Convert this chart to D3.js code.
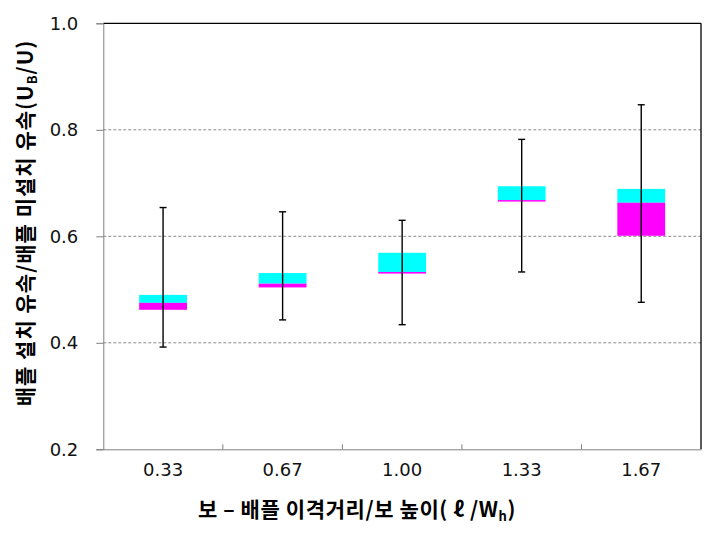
<!DOCTYPE html>
<html>
<head>
<meta charset="utf-8">
<script src="https://cdn.jsdelivr.net/npm/d3@7"></script>
<style>
  html, body { margin: 0; padding: 0; background: #fff; }
  svg { display: block; }
</style>
</head>
<body>
<div id="chart"></div>
<script>
// ---- data ----
const categories = ["0.33", "0.67", "1.00", "1.33", "1.67"];
const minVals    = [0.392, 0.443, 0.434, 0.533, 0.476];
const q1Vals     = [0.462, 0.504, 0.530, 0.666, 0.601];
const medianVals = [0.475, 0.511, 0.533, 0.668, 0.663];
const q3Vals     = [0.490, 0.531, 0.569, 0.694, 0.689];
const maxVals    = [0.654, 0.646, 0.630, 0.782, 0.847];
const yTicks     = [0.2, 0.4, 0.6, 0.8, 1.0];

const W = 715, H = 544;
const margin = { left: 103.3, right: 14, top: 23.3, bottom: 94.7 };
const x0 = margin.left, x1 = W - margin.right;
const y0 = margin.top, y1 = H - margin.bottom;

const svg = d3.select("#chart").append("svg")
  .attr("width", W).attr("height", H);

const x = d3.scaleBand().domain(categories).range([x0, x1]).padding(0);
const y = d3.scaleLinear().domain([0.2, 1.0]).range([y1, y0]);

const rows = categories.map((c, i) => ({
  c, min: minVals[i], q1: q1Vals[i], med: medianVals[i], q3: q3Vals[i], max: maxVals[i]
}));

// gridlines
svg.append("g").selectAll("line")
  .data(yTicks.filter(t => t > 0.2 && t < 1.0))
  .join("line")
  .attr("x1", x0).attr("x2", x1)
  .attr("y1", d => y(d)).attr("y2", d => y(d))
  .attr("stroke", "#8a8a8a").attr("stroke-width", 1)
  .attr("stroke-dasharray", "3,2");

const boxW = x.bandwidth() * 0.4;
const cx = d => x(d.c) + x.bandwidth() / 2;

// upper box (median -> q3) cyan
svg.append("g").selectAll("rect")
  .data(rows).join("rect")
  .attr("x", d => cx(d) - boxW / 2)
  .attr("width", boxW)
  .attr("y", d => y(d.q3))
  .attr("height", d => y(d.med) - y(d.q3))
  .attr("fill", "#00FFFF");

// lower box (q1 -> median) magenta
svg.append("g").selectAll("rect")
  .data(rows).join("rect")
  .attr("x", d => cx(d) - boxW / 2)
  .attr("width", boxW)
  .attr("y", d => y(d.med))
  .attr("height", d => Math.max(1.5, y(d.q1) - y(d.med)))
  .attr("fill", "#FF00FF");

// whiskers
const wg = svg.append("g").attr("stroke", "#000").attr("stroke-width", 1.4);
wg.selectAll("line.v").data(rows).join("line").attr("class", "v")
  .attr("x1", cx).attr("x2", cx)
  .attr("y1", d => y(d.max)).attr("y2", d => y(d.min));
wg.selectAll("line.t").data(rows).join("line").attr("class", "t")
  .attr("x1", d => cx(d) - 3.5).attr("x2", d => cx(d) + 3.5)
  .attr("y1", d => y(d.max)).attr("y2", d => y(d.max));
wg.selectAll("line.b").data(rows).join("line").attr("class", "b")
  .attr("x1", d => cx(d) - 3.5).attr("x2", d => cx(d) + 3.5)
  .attr("y1", d => y(d.min)).attr("y2", d => y(d.min));

// frame: top and right black
svg.append("line").attr("x1", x0).attr("x2", x1).attr("y1", y0).attr("y2", y0)
  .attr("stroke", "#000").attr("stroke-width", 1.3);
svg.append("line").attr("x1", x1).attr("x2", x1).attr("y1", y0).attr("y2", y1)
  .attr("stroke", "#000").attr("stroke-width", 1.3);

// y axis
const yAxis = svg.append("g").attr("transform", `translate(${x0},0)`)
  .call(d3.axisLeft(y).tickValues(yTicks).tickFormat(d3.format(".1f")).tickSize(7).tickPadding(18));
yAxis.select(".domain").attr("stroke", "#808080");
yAxis.selectAll(".tick line").attr("stroke", "#808080");
yAxis.selectAll("text")
  .attr("font-family", "'DejaVu Sans', sans-serif")
  .attr("font-size", 18).attr("fill", "#111");

// x axis
const xAxis = svg.append("g").attr("transform", `translate(0,${y1})`)
  .call(d3.axisBottom(x).tickSize(0).tickPadding(14));
xAxis.select(".domain").attr("stroke", "#808080");
xAxis.selectAll("text")
  .attr("font-family", "'DejaVu Sans', sans-serif")
  .attr("font-size", 18).attr("fill", "#111");
// category boundary ticks (inward)
svg.append("g").selectAll("line")
  .data(categories.slice(1))
  .join("line")
  .attr("x1", d => x(d)).attr("x2", d => x(d))
  .attr("y1", y1).attr("y2", y1 - 5)
  .attr("stroke", "#808080");

// axis titles
const yt = svg.append("text")
  .attr("transform", "translate(33,223) rotate(-90)")
  .attr("text-anchor", "middle")
  .attr("font-family", "'Noto Sans CJK KR', sans-serif")
  .attr("letter-spacing", 1)
  .attr("font-weight", "bold").attr("font-size", 21).attr("fill", "#000");
yt.append("tspan").text("배플 설치 유속/배플 미설치 유속(U");
yt.append("tspan").attr("font-size", 13).attr("dy", 4).text("B");
yt.append("tspan").attr("dy", -4).text("/U)");

const xt = svg.append("text")
  .attr("x", 357).attr("y", 517)
  .attr("text-anchor", "middle")
  .attr("font-family", "'Noto Sans CJK KR', sans-serif")
  .attr("letter-spacing", 0.6)
  .attr("font-weight", "bold").attr("font-size", 21).attr("fill", "#000");
xt.append("tspan").text("보 – 배플 이격거리/보 높이( ℓ /W");
xt.append("tspan").attr("font-size", 13).attr("dy", 4).text("h");
xt.append("tspan").attr("dy", -4).text(")");
</script>
</body>
</html>
